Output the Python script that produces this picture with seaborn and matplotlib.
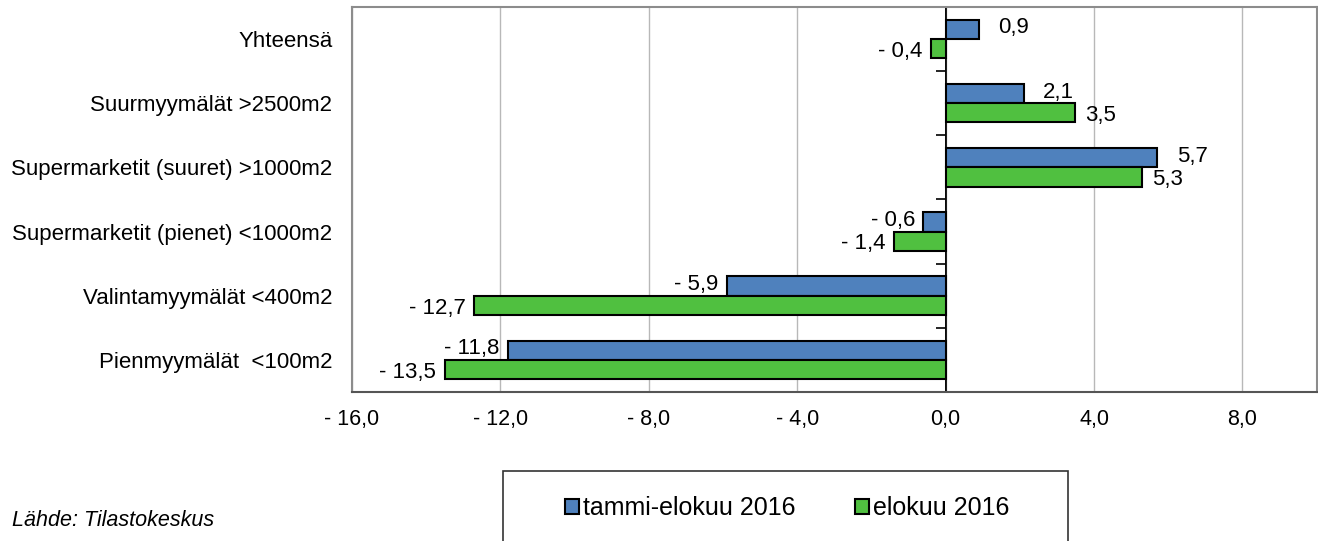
"""Vähittäiskaupan myynnin muutos myymäläryhmittäin."""

import matplotlib.pyplot as plt
import pandas as pd
import seaborn as sns
from matplotlib.patches import Rectangle

categories = [
    "Yhteensä",
    "Suurmyymälät >2500m2",
    "Supermarketit (suuret) >1000m2",
    "Supermarketit (pienet) <1000m2",
    "Valintamyymälät <400m2",
    "Pienmyymälät  <100m2",
]
series_names = ["tammi-elokuu 2016", "elokuu 2016"]
tammi_elokuu = [0.9, 2.1, 5.7, -0.6, -5.9, -11.8]
elokuu = [-0.4, 3.5, 5.3, -1.4, -12.7, -13.5]
x_ticks = [-16, -12, -8, -4, 0, 4, 8]


def fi_num(v):
    """Finnish style number: '- 12,7'."""
    s = f"{abs(v):.1f}".replace(".", ",")
    return f"- {s}" if v < 0 else s


df = pd.DataFrame({
    "kategoria": categories * 2,
    "sarja": [series_names[0]] * len(categories) + [series_names[1]] * len(categories),
    "muutos": tammi_elokuu + elokuu,
})

sns.set_style("white")
plt.rcParams["font.family"] = ["Liberation Sans", "DejaVu Sans"]
plt.rcParams["text.color"] = "black"
plt.rcParams["xtick.color"] = "black"
plt.rcParams["ytick.color"] = "black"

fig = plt.figure(figsize=(13.18, 5.41), dpi=100)
ax = fig.add_axes([0.267, 0.2754, 0.732, 0.712])

sns.barplot(
    data=df, y="kategoria", x="muutos", hue="sarja", orient="h",
    palette=["#4F81BD", "#50C040"], saturation=1, width=0.6,
    edgecolor="black", linewidth=1.5, ax=ax, legend=True,
)

ax.set_xlim(-16, 10)
ax.set_xticks(x_ticks)
ax.set_xticklabels([fi_num(t) for t in x_ticks], fontsize=15.5)
ax.tick_params(axis="x", length=5, width=1, direction="out", color="#333333", pad=7)
ax.tick_params(axis="y", length=0, labelsize=16, pad=14)
ax.set_xlabel("")
ax.set_ylabel("")
ax.grid(axis="x", color="#b8b8b8", linewidth=1)
ax.set_axisbelow(True)
for side in ["top", "right", "left"]:
    ax.spines[side].set_color("#8c8c8c")
    ax.spines[side].set_linewidth(1.5)
ax.spines["bottom"].set_color("#555555")
ax.spines["bottom"].set_linewidth(1.5)

# zero line with category separator ticks
ax.axvline(0, color="black", linewidth=1.2, zorder=1.5)
zero_pos = (0 - ax.get_xlim()[0]) / (ax.get_xlim()[1] - ax.get_xlim()[0])
sec = ax.secondary_yaxis(zero_pos)
sec.set_yticks([i - 0.5 for i in range(len(categories) + 1)])
sec.set_yticklabels([])
sec.tick_params(length=7, width=1.2, color="black", direction="in")
for sp in sec.spines.values():
    sp.set_color("black")
    sp.set_linewidth(1.2)

# value labels (blue above, green slightly below, as in the original)
offsets = [(14, 1), (7, -2)]
for container, (dx, dy) in zip(ax.containers, offsets):
    for bar in container:
        v = bar.get_width()
        y = bar.get_y() + bar.get_height() / 2
        ax.annotate(
            fi_num(v), (v, y), xytext=(dx if v >= 0 else -6, dy),
            textcoords="offset points", ha="left" if v >= 0 else "right",
            va="center", fontsize=16,
        )

# legend in a box at the bottom
handles, labels = ax.get_legend_handles_labels()
ax.get_legend().remove()
fig.patches.append(Rectangle(
    (503 / 1318, -0.1), (1068 - 503) / 1318, (541 - 471) / 541 + 0.1,
    transform=fig.transFigure, facecolor="white", edgecolor="#333333",
    linewidth=1.2,
))
fig.legend(
    handles, labels, loc="center", bbox_to_anchor=(787 / 1318, 1 - 508 / 541),
    ncol=2, frameon=False, fontsize=18, handlelength=0.55, handleheight=0.55,
    handletextpad=0.15, columnspacing=2.4,
)

fig.text(12 / 1318, 1 - 520 / 541, "Lähde: Tilastokeskus",
         fontsize=15.5, style="italic", va="center")

plt.savefig("out.png")
